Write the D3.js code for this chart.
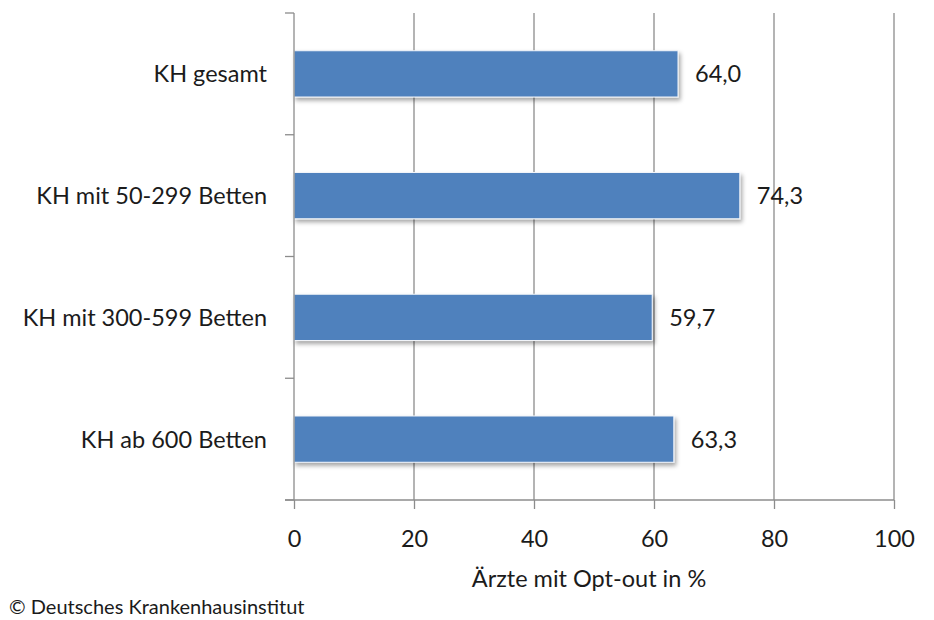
<!DOCTYPE html>
<html>
<head>
<meta charset="utf-8">
<script src="https://cdn.jsdelivr.net/npm/d3@7"></script>
<style>
  body { margin: 0; background: #fff; }
  text { font-family: Lato, 'Open Sans', sans-serif; fill: #1b1b1b; }
</style>
</head>
<body>
<div id="chart"></div>
<script>
const categories = ['KH gesamt', 'KH mit 50-299 Betten', 'KH mit 300-599 Betten', 'KH ab 600 Betten'];
const values = [64.0, 74.3, 59.7, 63.3];
const xTicks = [0, 20, 40, 60, 80, 100];
const xTitle = 'Ärzte mit Opt-out in %';
const source = '© Deutsches Krankenhausinstitut';

const w = 934;
const h = 620;
const plot = { left: 294, right: 894, top: 13, bottom: 500 };
const fontSize = '23.5px';

const svg = d3.select('#chart').
  append('svg').
  attr('width', w).
  attr('height', h);

const defs = svg.append('defs');
const shadow = defs.append('filter').
  attr('id', 'shadow').
  attr('x', '-5%').attr('y', '-20%').
  attr('width', '115%').attr('height', '160%');
shadow.append('feDropShadow').
  attr('dx', 2).attr('dy', 3).
  attr('stdDeviation', 2).
  attr('flood-color', '#000').
  attr('flood-opacity', 0.35);

const xScale = d3.scaleLinear().
  domain([0, 100]).
  range([plot.left, plot.right]);

const yScale = d3.scaleBand().
  domain(categories).
  range([plot.top, plot.bottom]).
  paddingInner(0.62).
  paddingOuter(0.31);

// vertical gridlines
svg.append('g').
  selectAll('line').
  data(xTicks.slice(1)).
  enter().
  append('line').
  attr('x1', d => xScale(d)).
  attr('x2', d => xScale(d)).
  attr('y1', plot.top).
  attr('y2', plot.bottom).
  attr('stroke', '#8c8c8c').
  attr('stroke-width', 1.3);

// bars
svg.append('g').
  selectAll('rect').
  data(values).
  enter().
  append('rect').
  attr('x', xScale(0)).
  attr('y', (d, i) => yScale(categories[i])).
  attr('width', d => xScale(d) - xScale(0)).
  attr('height', yScale.bandwidth()).
  attr('fill', '#4f81bd').
  attr('stroke', '#f2f5fa').
  attr('stroke-width', 1).
  attr('filter', 'url(#shadow)');

// value labels
svg.append('g').
  selectAll('text').
  data(values).
  enter().
  append('text').
  attr('x', d => xScale(d) + 17).
  attr('y', (d, i) => yScale(categories[i]) + yScale.bandwidth() / 2).
  attr('dy', '0.36em').
  style('font-size', fontSize).
  text(d => d3.format('.1f')(d).replace('.', ','));

// y axis: band boundary ticks
const bandEdges = [plot.top].concat(categories.map(c => yScale(c) + yScale.bandwidth() + yScale.step() * yScale.paddingInner() / 2));
bandEdges[bandEdges.length - 1] = plot.bottom;

const yAxis = svg.append('g');
yAxis.append('line').
  attr('x1', plot.left).attr('x2', plot.left).
  attr('y1', plot.top).attr('y2', plot.bottom).
  attr('stroke', '#8c8c8c').attr('stroke-width', 1.3);
yAxis.selectAll('.ytick').
  data(bandEdges).
  enter().
  append('line').
  attr('class', 'ytick').
  attr('x1', plot.left - 9).attr('x2', plot.left).
  attr('y1', d => d).attr('y2', d => d).
  attr('stroke', '#8c8c8c').attr('stroke-width', 1.3);
yAxis.selectAll('text').
  data(categories).
  enter().
  append('text').
  attr('x', plot.left - 27).
  attr('y', d => yScale(d) + yScale.bandwidth() / 2).
  attr('dy', '0.36em').
  attr('text-anchor', 'end').
  style('font-size', fontSize).
  text(d => d);

// x axis
const xAxis = d3.axisBottom(xScale).
  tickValues(xTicks).
  tickSize(9).
  tickPadding(21).
  tickSizeOuter(0);

const xg = svg.append('g').
  attr('transform', 'translate(0,' + plot.bottom + ')').
  call(xAxis);
xg.select('.domain').remove();
xg.append('line').
  attr('x1', plot.left - 9).attr('x2', plot.right).
  attr('stroke', '#8c8c8c').attr('stroke-width', 1.3);
xg.selectAll('.tick line').attr('stroke', '#8c8c8c').attr('stroke-width', 1.3);
xg.selectAll('.tick text').
  style('font-size', fontSize).
  style('font-family', 'Lato, sans-serif').
  attr('fill', '#1b1b1b');

svg.append('text').
  attr('x', 589).
  attr('y', 587).
  attr('text-anchor', 'middle').
  style('font-size', fontSize).
  text(xTitle);

svg.append('text').
  attr('x', 9).
  attr('y', 614).
  style('font-size', '20px').
  text(source);
</script>
</body>
</html>
